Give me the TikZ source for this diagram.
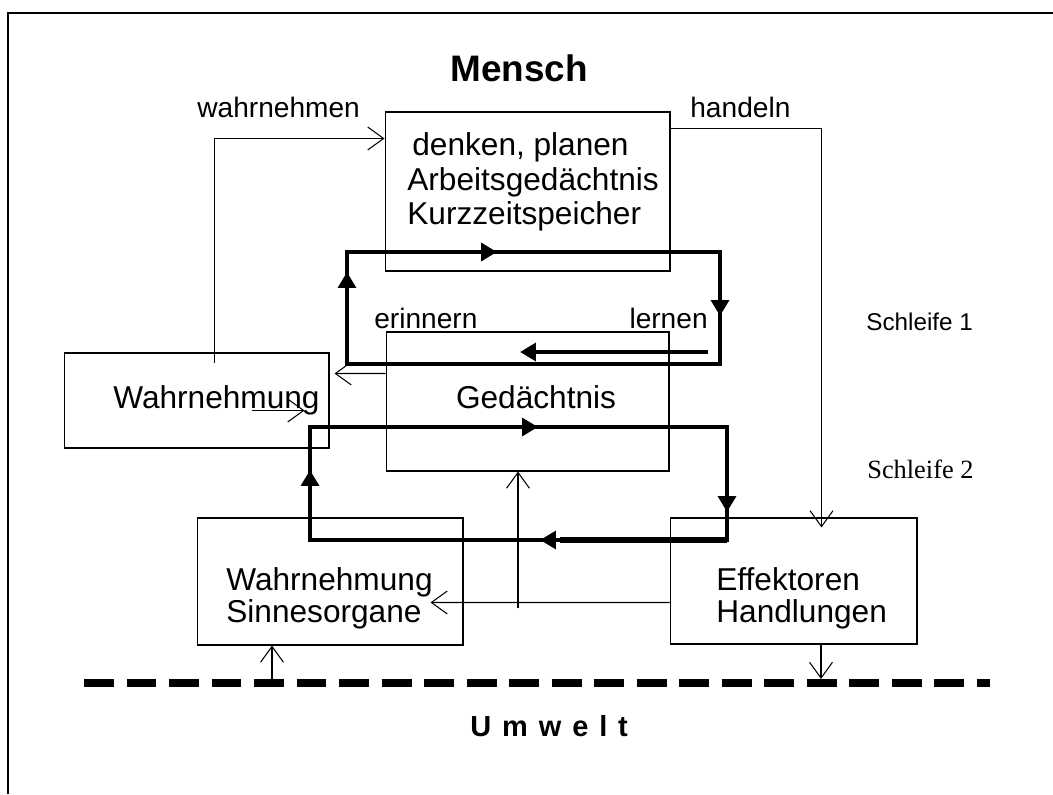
\documentclass[tikz,border=0pt]{standalone}
\usepackage{fontspec}
\setmainfont{Liberation Sans}
\newfontfamily\timesfont{Liberation Serif}
\usetikzlibrary{arrows.meta,calc}
\tikzset{
  box/.style={draw,rectangle,line width=0.6pt,inner sep=0pt},
  txt/.style={inner sep=0pt,font=\fontsize{18}{21}\selectfont},
  lbl/.style={inner sep=0pt,font=\fontsize{16}{19}\selectfont},
  arr/.style={-{Straight Barb[length=9pt,width=13pt]},line width=0.6pt},
  thk/.style={line width=2.3pt},
  tri/.style={thk,-{Triangle[length=9pt,width=10pt]}},
  envline/.style={line width=4.5pt,dash pattern=on 17pt off 7.2pt}
}

\begin{document}
\begin{tikzpicture}[x=0.02cm, y=-0.02cm]
  \useasboundingbox (0,0) rectangle (1053,794);
  % outer frame (open to the right and bottom)
  \draw[line width=1pt] (8,794) |- (1053,13);

  % Titles
  \node[inner sep=0pt,font=\fontsize{21}{24}\selectfont\bfseries,anchor=base] (mensch) at (519,82) {Mensch};
  \node[inner sep=0pt,anchor=base west,font={\fontsize{16.5}{19}\selectfont\bfseries\spaceskip=6.2pt}] (umwelt) at (470,736) {U m w e l t};

  % Boxes
  \node[box, minimum width=5.7cm,  minimum height=3.18cm] (A)  at (527.5,191.5) {};
  \node[box, minimum width=5.66cm, minimum height=2.78cm] (B)  at (527.5,401.5) {};
  \node[box, minimum width=5.3cm,  minimum height=1.9cm]  (W1) at (196.5,400.5) {};
  \node[box, minimum width=5.32cm, minimum height=2.54cm] (W2) at (330,581.5) {};
  \node[box, minimum width=4.94cm, minimum height=2.52cm] (E)  at (793.5,581) {};

  % Box texts
  \node[txt,anchor=base west] (tA1) at (412,155) {denken, planen};
  \node[txt,anchor=base west] (tA2) at (407,190) {Arbeitsgedächtnis};
  \node[txt,anchor=base west] (tA3) at (407,224) {Kurzzeitspeicher};
  \node[txt,anchor=base] (tB) at (536,408) {Gedächtnis};
  \node[txt,anchor=base west] (tW1) at (113,408) {Wahrnehmung};
  \node[txt,anchor=base west] (tW2a) at (226,590) {Wahrnehmung};
  \node[txt,anchor=base west] (tW2b) at (226,622) {Sinnesorgane};
  \node[txt,anchor=base west] (tE1) at (716,590) {Effektoren};
  \node[txt,anchor=base west] (tE2) at (716,622) {Handlungen};

  % Connector labels
  \node[lbl,anchor=base west] (lwahr) at (197,117) {wahrnehmen};
  \node[lbl,anchor=base west] (lhand) at (690,117) {handeln};
  \node[lbl,anchor=base west] (lerin) at (374,328) {erinnern};
  \node[lbl,anchor=base east] (llern) at (708,328) {lernen};
  \node[inner sep=0pt,anchor=base west,font=\fontsize{13.8}{16}\selectfont] (s1) at (866,330) {Schleife 1};
  \node[inner sep=0pt,anchor=base west,font=\fontsize{15}{18}\selectfont\timesfont] (s2) at (867,478) {Schleife 2};

  % Thin connectors
  \coordinate (wUp) at ($(W1.north west)+(151,11)$);
  \draw[arr] (wUp) |- ($(A.north west)+(0,27)$);
  \draw[arr] ($(A.north east)+(0,17)$) -| ($(E.north west)+(152,10)$);
  \draw[arr] ($(B.north west)+(0,42)$) -- ($(W1.north east)+(5,21)$);
  \draw[arr] ($(W1.north west)+(188,58)$) -- ($(W1.north west)+(241,58)$);
  \draw[arr] ($(E.north west)+(0,85)$) -- ($(W2.north east)+(-33,85)$);
  \coordinate (gUp) at (518,608);
  \draw[arr] (gUp) -- (B.south -| gUp);

  % Environment border
  \coordinate (envL) at (84,683);
  \coordinate (envR) at (990,683);
  \draw[envline] (envL) -- (envR);
  \coordinate (envA) at (272,683);
  \coordinate (envB) at (821,679);
  \draw[arr] (envA) -- (W2.south -| envA);
  \draw[arr] (E.south -| envB) -- (envB);

  % Loop 1
  \coordinate (l1nw) at (347,252);
  \coordinate (l1se) at (720,364);
  \draw[thk] (l1nw) rectangle (l1se);
  \draw[tri] (l1nw) -- (497,252);
  \draw[tri] (720,252) -- (720,316);
  \draw[tri] (347,364) -- (347,272);
  \draw[tri] (708,352) -- (520,352);

  % Loop 2
  \coordinate (l2nw) at (310,427);
  \coordinate (l2se) at (727,540);
  \draw[thk] (l2nw) rectangle (l2se);
  \draw[line width=3.4pt] (l2se) -- (560,540);
  \draw[tri] (l2nw) -- (538,427);
  \draw[tri] (727,427) -- (727,512);
  \draw[tri] (310,540) -- (310,470);
  \draw[tri] (l2se) -- (540,540);
\end{tikzpicture}
\end{document}
